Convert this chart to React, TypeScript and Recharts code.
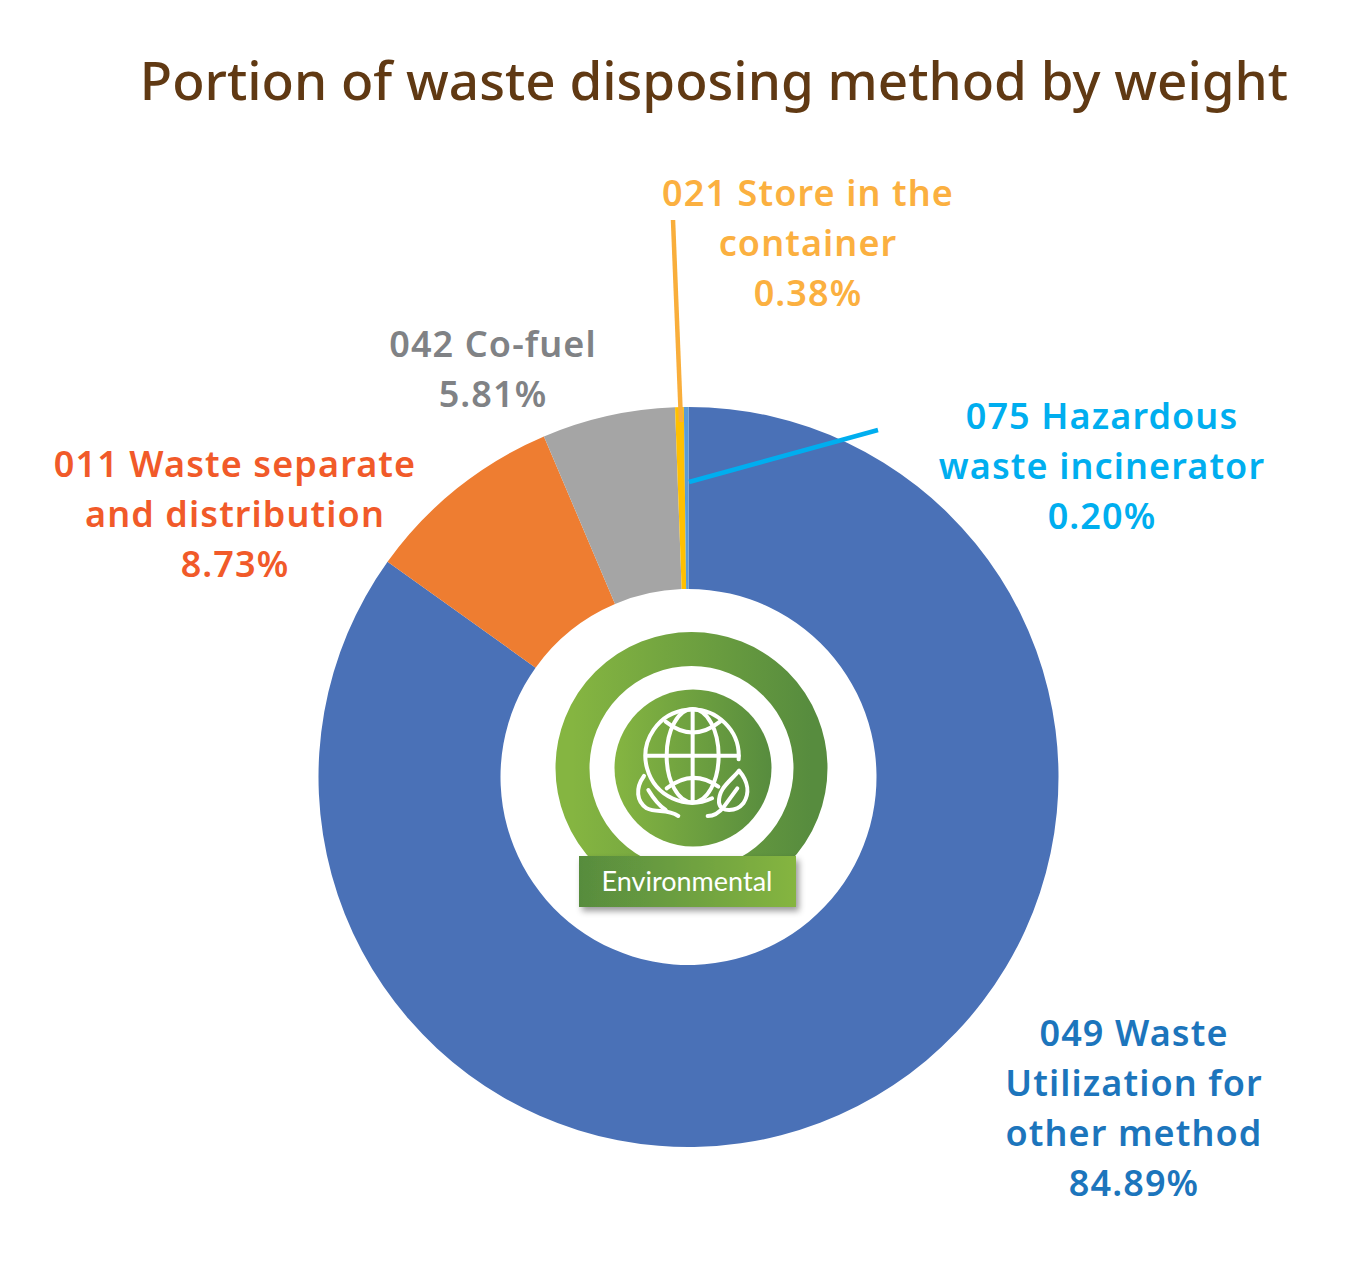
import { PieChart, Pie, Cell } from "recharts";

const SLICE_NAMES = [
  "049 Waste Utilization for other method",
  "011 Waste separate and distribution",
  "042 Co-fuel",
  "021 Store in the container",
  "075 Hazardous waste incinerator",
];
const SLICE_VALUES = [84.89, 8.73, 5.81, 0.38, 0.2];
const SLICE_COLORS = ["#4a71b7", "#ee7d31", "#a5a5a5", "#ffc000", "#5b9bd5"];
const LABEL_COLORS = ["#1c75bc", "#f15a29", "#808285", "#fbb040", "#00aeef"];
const LABEL_LINES = [
  ["049 Waste", "Utilization for", "other method"],
  ["011 Waste separate", "and distribution"],
  ["042 Co-fuel"],
  ["021 Store in the", "container"],
  ["075 Hazardous", "waste incinerator"],
];

// where each label block sits on the page: centre x, first baseline
const LABEL_POS = [
  [1134, 1046],
  [235, 477],
  [493, 357],
  [808, 206],
  [1102, 429],
];
const LEADERS: Record<number, number[]> = {
  3: [673, 220, 681, 422],
  4: [878, 430, 689, 482],
};

const FONT = '"Noto Sans", sans-serif';

const data = SLICE_NAMES.map((name, i) => ({ name, value: SLICE_VALUES[i] }));

function renderLabel(props: any) {
  const i = props.index;
  const [x, y] = LABEL_POS[i];
  const lines = [...LABEL_LINES[i], `${SLICE_VALUES[i].toFixed(2)}%`];
  const lead = LEADERS[i];
  return (
    <g key={i}>
      {lead && (
        <line
          x1={lead[0]}
          y1={lead[1]}
          x2={lead[2]}
          y2={lead[3]}
          stroke={i === 3 ? "#f9ae3b" : LABEL_COLORS[i]}
          strokeWidth={4.5}
        />
      )}
      <text
        x={x}
        y={y}
        textAnchor="middle"
        fill={LABEL_COLORS[i]}
        fontFamily={FONT}
        fontSize={36}
        fontWeight={600}
        letterSpacing={1.1}
      >
        {lines.map((l, n) => (
          <tspan key={n} x={x} dy={n === 0 ? 0 : 50}>
            {l}
          </tspan>
        ))}
      </text>
    </g>
  );
}

// badge in the hole of the donut, coordinates taken at 3x from (500,580)
function Badge() {
  return (
    <g>
      <defs>
        <linearGradient id="lightToDark" x1="0" y1="0" x2="1" y2="0">
          <stop offset="0" stopColor="#85b541" />
          <stop offset="1" stopColor="#578c3e" />
        </linearGradient>
        <linearGradient id="darkToLight" x1="0" y1="0" x2="1" y2="0">
          <stop offset="0" stopColor="#578c3e" />
          <stop offset="1" stopColor="#85b541" />
        </linearGradient>
        <filter id="bannerShadow" x="-10%" y="-20%" width="125%" height="150%">
          <feDropShadow dx="3" dy="4" stdDeviation="3" floodColor="#000" floodOpacity="0.4" />
        </filter>
      </defs>
      <circle cx={691.5} cy={768} r={119} fill="none" stroke="url(#lightToDark)" strokeWidth={34} />
      <circle cx={693} cy={768} r={78.5} fill="url(#lightToDark)" />
      <g
        transform="translate(500 580) scale(0.3333)"
        fill="none"
        stroke="#fff"
        strokeWidth={12}
        strokeLinecap="round"
        strokeLinejoin="round"
      >
        <path d="M716 538 A140 140 0 1 0 636 655" />
        <ellipse cx={578} cy={527} rx={78} ry={140} />
        <line x1={578} y1={390} x2={578} y2={665} />
        <line x1={440} y1={527} x2={716} y2={527} />
        <path d="M497 425 Q578 490 660 425" />
        <path d="M500 625 Q578 565 655 620" />
        <path d="M432 588 C405 625 410 665 440 685 C470 700 500 685 535 708" />
        <path d="M445 630 C460 655 475 675 497 690" />
        <path d="M717 572 C690 605 655 625 657 668 C662 700 710 695 730 670 C750 640 745 605 717 572 Z" />
        <path d="M623 708 C645 708 660 695 672 680 L712 625" />
      </g>
      <rect x={579} y={856} width={217} height={51} fill="url(#darkToLight)" filter="url(#bannerShadow)" />
      <text x={687} y={891} textAnchor="middle" fill="#fff" fontFamily="Lato, sans-serif" fontSize={27}>
        Environmental
      </text>
    </g>
  );
}

export default function App() {
  return (
    <div style={{ position: "absolute", left: 0, top: 0, width: 1356, height: 1265, background: "#fff" }}>
      <PieChart width={1356} height={1265} margin={{ top: 0, right: 0, bottom: 0, left: 0 }}>
        <text x={714} y={100} textAnchor="middle" fill="#603913" fontFamily={FONT} fontSize={53} fontWeight={500}>
          Portion of waste disposing method by weight
        </text>
        <Pie
          data={data}
          dataKey="value"
          nameKey="name"
          cx={688.5}
          cy={777}
          innerRadius={188}
          outerRadius={370}
          startAngle={90}
          endAngle={-270}
          stroke="none"
          isAnimationActive={false}
          label={renderLabel}
          labelLine={false}
        >
          {data.map((d, i) => (
            <Cell key={d.name} fill={SLICE_COLORS[i]} />
          ))}
        </Pie>
        <Badge />
      </PieChart>
    </div>
  );
}
